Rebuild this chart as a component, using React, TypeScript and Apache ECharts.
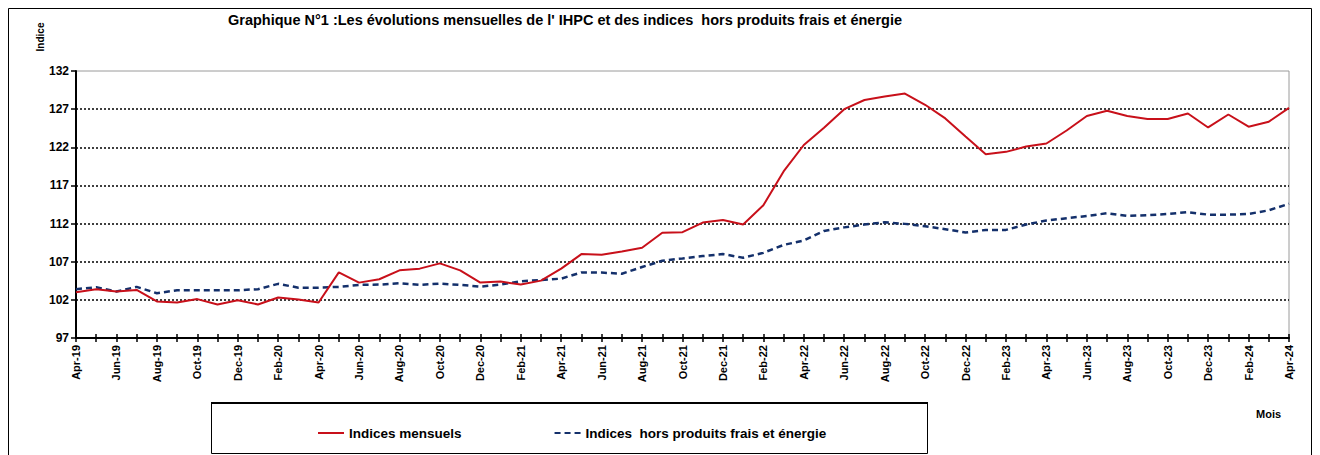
import React, { useEffect, useRef } from "react";
import * as echarts from "echarts";

const categories: string[] = [
  "Apr-19", "May-19", "Jun-19", "Jul-19", "Aug-19", "Sep-19", "Oct-19", "Nov-19", "Dec-19", "Jan-20",
  "Feb-20", "Mar-20", "Apr-20", "May-20", "Jun-20", "Jul-20", "Aug-20", "Sep-20", "Oct-20", "Nov-20",
  "Dec-20", "Jan-21", "Feb-21", "Mar-21", "Apr-21", "May-21", "Jun-21", "Jul-21", "Aug-21", "Sep-21",
  "Oct-21", "Nov-21", "Dec-21", "Jan-22", "Feb-22", "Mar-22", "Apr-22", "May-22", "Jun-22", "Jul-22",
  "Aug-22", "Sep-22", "Oct-22", "Nov-22", "Dec-22", "Jan-23", "Feb-23", "Mar-23", "Apr-23", "May-23",
  "Jun-23", "Jul-23", "Aug-23", "Sep-23", "Oct-23", "Nov-23", "Dec-23", "Jan-24", "Feb-24", "Mar-24",
  "Apr-24",
];

const indicesMensuels: number[] = [
  103.0, 103.4, 103.1, 103.3, 101.8, 101.65, 102.1, 101.4, 101.95, 101.4,
  102.3, 102.05, 101.65, 105.6, 104.26, 104.7, 105.87, 106.09, 106.78, 105.87,
  104.26, 104.4, 104.0, 104.52, 106.09, 108.0, 107.9, 108.35, 108.83, 110.8,
  110.87, 112.13, 112.48, 111.87, 114.39, 118.83, 122.3, 124.57, 127.0, 128.2,
  128.65, 129.04, 127.57, 125.78, 123.4, 121.1, 121.4, 122.1, 122.5, 124.2,
  126.1, 126.78, 126.1, 125.7, 125.7, 126.43, 124.6, 126.3, 124.7, 125.35,
  127.17,
];

const indicesHorsProduitsFrais: number[] = [
  103.4, 103.65, 103.1, 103.7, 102.87, 103.26, 103.26, 103.26, 103.26, 103.4,
  104.1, 103.6, 103.6, 103.7, 103.96, 104.0, 104.17, 103.96, 104.13, 103.96,
  103.74, 104.0, 104.43, 104.6, 104.78, 105.6, 105.57, 105.43, 106.3, 107.13,
  107.43, 107.74, 108.0, 107.52, 108.17, 109.2, 109.78, 111.04, 111.5, 111.87,
  112.17, 111.96, 111.65, 111.26, 110.83, 111.17, 111.17, 111.87, 112.4, 112.7,
  113.0, 113.35, 113.0, 113.1, 113.26, 113.5, 113.17, 113.17, 113.26, 113.74,
  114.6,
];

const yMin = 97;
const yMax = 132;
const yStep = 5;

const FONT = "'Liberation Sans', Arial, sans-serif";

export default function App() {
  const ref = useRef<HTMLDivElement>(null);

  useEffect(() => {
    if (!ref.current) return;
    const chart = echarts.init(ref.current, undefined, { renderer: "svg" });
    const splitColors: string[] = [];
    for (let v = yMin; v <= yMax; v += yStep) {
      splitColors.push(v === yMin || v === yMax ? "transparent" : "#000000");
    }
    chart.setOption({
      animation: false,
      backgroundColor: "#ffffff",
      textStyle: { fontFamily: FONT },
      grid: {
        left: 76,
        right: 31,
        top: 71,
        bottom: 117,
        show: true,
        borderColor: "#9a9a9a",
        borderWidth: 1,
        backgroundColor: "transparent",
      },
      legend: {
        left: 312,
        top: 421,
        itemWidth: 26,
        itemHeight: 14,
        itemGap: 92,
        itemStyle: { opacity: 0 },
        textStyle: { fontFamily: FONT, fontWeight: "bold", fontSize: 13.5, color: "#000" },
        data: [
          { name: "Indices mensuels" },
          { name: "Indices  hors produits frais et énergie" },
        ],
      },
      xAxis: [
        {
          type: "category",
          data: categories,
          boundaryGap: false,
          axisLine: { show: true, lineStyle: { color: "#000", width: 2 } },
          axisTick: { show: true, interval: 0, length: 4, lineStyle: { color: "#000", width: 1.5 } },
          axisLabel: {
            interval: 1,
            rotate: 90,
            margin: 7,
            fontFamily: FONT,
            fontWeight: "bold",
            fontSize: 11,
            color: "#000",
          },
          splitLine: { show: false },
        },
        {
          type: "category",
          data: categories,
          boundaryGap: false,
          position: "bottom",
          axisLine: { show: false },
          axisTick: { show: true, inside: true, interval: 0, length: 4, lineStyle: { color: "#000", width: 1.5 } },
          axisLabel: { show: false },
          splitLine: { show: false },
        },
      ],
      yAxis: {
        type: "value",
        min: yMin,
        max: yMax,
        interval: yStep,
        axisLine: { show: true, lineStyle: { color: "#000", width: 2 } },
        axisTick: { show: true, length: 5, lineStyle: { color: "#000", width: 1.5 } },
        axisLabel: {
          margin: 7,
          fontFamily: FONT,
          fontWeight: "bold",
          fontSize: 12,
          color: "#000",
        },
        splitLine: {
          show: true,
          lineStyle: { color: splitColors, type: [2, 2], width: 1.5 },
        },
      },
      series: [
        {
          name: "Indices mensuels",
          type: "line",
          xAxisIndex: 0,
          data: indicesMensuels,
          symbol: "none",
          lineStyle: { color: "#C8101A", width: 2 },
          itemStyle: { color: "#C8101A" },
          z: 3,
        },
        {
          name: "Indices  hors produits frais et énergie",
          type: "line",
          xAxisIndex: 0,
          data: indicesHorsProduitsFrais,
          symbol: "none",
          lineStyle: { color: "#14306B", width: 2.5, type: [6, 4] },
          itemStyle: { color: "#14306B" },
          z: 2,
        },
      ],
      graphic: [
        {
          type: "rect",
          shape: { x: 8.5, y: 8.5, width: 1303, height: 470 },
          style: { fill: "none", stroke: "#000", lineWidth: 1 },
          silent: true,
        },
        {
          type: "text",
          x: 228,
          y: 20,
          style: {
            text: "Graphique N°1 :Les évolutions mensuelles de l' IHPC et des indices  hors produits frais et énergie",
            font: `bold 14.5px ${FONT}`,
            fill: "#000",
            textVerticalAlign: "middle",
          },
        },
        {
          type: "text",
          x: 40,
          y: 37,
          rotation: Math.PI / 2,
          style: {
            text: "Indice",
            font: `bold 10px ${FONT}`,
            fill: "#000",
            textAlign: "center",
            textVerticalAlign: "middle",
          },
        },
        {
          type: "text",
          x: 1256,
          y: 414,
          style: {
            text: "Mois",
            font: `bold 11px ${FONT}`,
            fill: "#000",
            textVerticalAlign: "middle",
          },
        },
        {
          type: "rect",
          shape: { x: 211.5, y: 403.5, width: 716, height: 50 },
          style: { fill: "none", stroke: "#000", lineWidth: 1 },
          silent: true,
        },
        {
          type: "line",
          shape: { x1: 211, y1: 403, x2: 928, y2: 403 },
          style: { stroke: "#000", lineWidth: 2 },
          silent: true,
        },
      ],
    });
    return () => chart.dispose();
  }, []);

  return (
    <div
      ref={ref}
      style={{ position: "fixed", left: 0, top: 0, width: 1320, height: 455 }}
    />
  );
}
